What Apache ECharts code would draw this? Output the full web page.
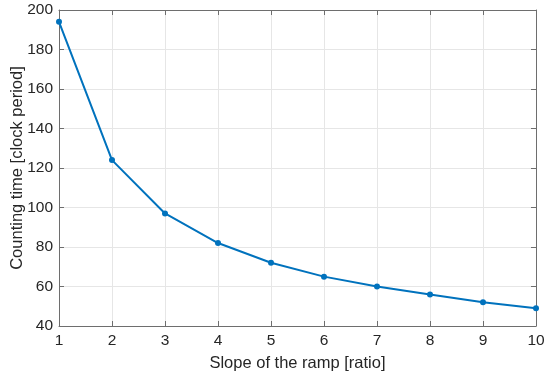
<!DOCTYPE html>
<html>
<head>
<meta charset="utf-8">
<script src="https://cdn.jsdelivr.net/npm/echarts@6/dist/echarts.min.js"></script>
<style>html,body{margin:0;padding:0;background:#fff;}#c{width:550px;height:381px;}</style>
</head>
<body>
<div id="c"></div>
<script>
const slopes = [1, 2, 3, 4, 5, 6, 7, 8, 9, 10];
const countingTime = [194, 124, 97, 82, 72, 65, 60, 56, 52, 49];
const xTitle = 'Slope of the ramp [ratio]';
const yTitle = 'Counting time [clock period]';

const font = 'Liberation Sans, Arial, sans-serif';
const axisCol = '#6e6e6e';
const textCol = '#262626';
const chart = echarts.init(document.getElementById('c'));
const common = {
  axisLine: {show: true, onZero: false, lineStyle: {color: axisCol, width: 1}},
  axisTick: {show: true, inside: true, length: 5, lineStyle: {color: axisCol}},
};
chart.setOption({
  animation: false,
  grid: {left: 59, right: 14, top: 10, bottom: 55, containLabel: false, outerBoundsMode: 'none'},
  xAxis: [
    Object.assign({
      type: 'value', min: 1, max: 10, interval: 1, position: 'bottom',
      name: xTitle, nameLocation: 'middle', nameGap: 29, nameMoveOverlap: false,
      nameTextStyle: {fontFamily: font, fontSize: 16.5, color: textCol},
      axisLabel: {fontFamily: font, fontSize: 15.5, color: textCol, margin: 7},
      splitLine: {show: true, lineStyle: {color: '#e6e6e6', width: 1}}
    }, common),
    Object.assign({
      type: 'value', min: 1, max: 10, interval: 1, position: 'top',
      axisLabel: {show: false}, splitLine: {show: false}
    }, common)
  ],
  yAxis: [
    Object.assign({
      type: 'value', min: 40, max: 200, interval: 20, position: 'left',
      name: yTitle, nameLocation: 'middle', nameGap: 33, nameMoveOverlap: false,
      nameTextStyle: {fontFamily: font, fontSize: 16.5, color: textCol},
      axisLabel: {fontFamily: font, fontSize: 15.5, color: textCol, margin: 6},
      splitLine: {show: true, lineStyle: {color: '#e6e6e6', width: 1}}
    }, common),
    Object.assign({
      type: 'value', min: 40, max: 200, interval: 20, position: 'right',
      axisLabel: {show: false}, splitLine: {show: false}
    }, common)
  ],
  series: [{
    type: 'line',
    data: slopes.map((s, i) => [s, countingTime[i]]),
    xAxisIndex: 0, yAxisIndex: 0,
    symbol: 'circle', symbolSize: 6,
    lineStyle: {color: '#0072BD', width: 2},
    itemStyle: {color: '#0072BD'}
  }]
});
</script>
</body>
</html>
